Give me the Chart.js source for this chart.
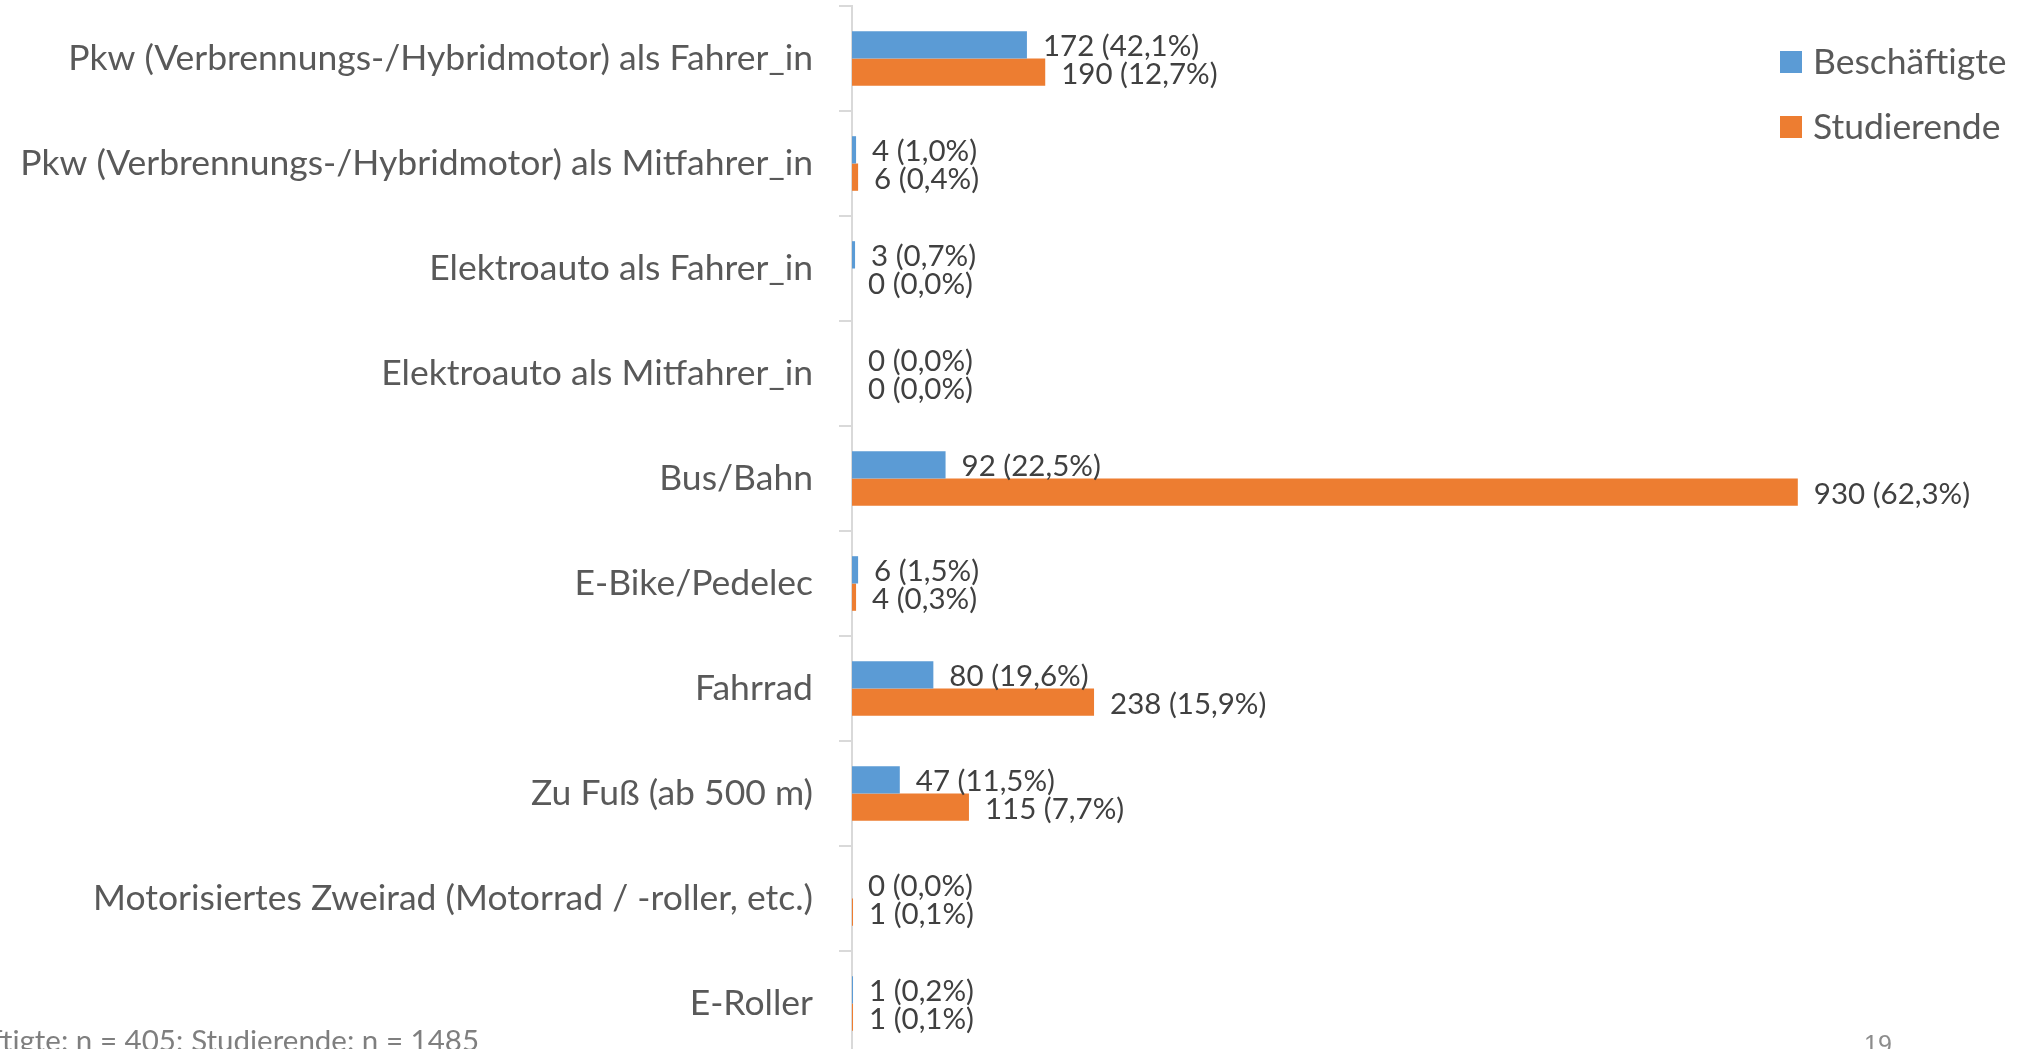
<!DOCTYPE html>
<html>
    <head>
        <meta charset="UTF-8" />
        <title>Verkehrsmittel Beschäftigte / Studierende</title>
        <style type="text/css">
            html, body {
                margin: 0;
                padding: 0;
                background: #ffffff;
                overflow: hidden;
            }
            #chartBox {
                position: relative;
                width: 2030px;
                height: 1049px;
                overflow: hidden;
            }
            #myChart {
                display: block;
            }
            #footnote {
                position: absolute;
                left: 479px;
                top: 1022px;
                transform: translateX(-100%);
                white-space: nowrap;
                font-family: Lato, sans-serif;
                font-size: 29.5px;
                color: #7f7f7f;
            }
            #pageNo {
                position: absolute;
                left: 1864px;
                top: 1030px;
                font-family: "Liberation Sans", sans-serif;
                font-size: 25px;
                color: #8c8c8c;
            }
        </style>
    </head>
    <body>
        <div id="chartBox">
            <canvas id="myChart" width="2030" height="1058"></canvas>
            <div id="footnote">Beschäftigte: n = 405; Studierende: n = 1485</div>
            <div id="pageNo">19</div>
        </div>

        <script src="https://cdn.jsdelivr.net/npm/chart.js"></script>
        <script>
            const categories = [
                'Pkw (Verbrennungs-/Hybridmotor) als Fahrer_in',
                'Pkw (Verbrennungs-/Hybridmotor) als Mitfahrer_in',
                'Elektroauto als Fahrer_in',
                'Elektroauto als Mitfahrer_in',
                'Bus/Bahn',
                'E-Bike/Pedelec',
                'Fahrrad',
                'Zu Fuß (ab 500 m)',
                'Motorisiertes Zweirad (Motorrad / -roller, etc.)',
                'E-Roller'
            ];
            const beschaeftigte = [172, 4, 3, 0, 92, 6, 80, 47, 0, 1];
            const beschaeftigtePct = [42.1, 1.0, 0.7, 0.0, 22.5, 1.5, 19.6, 11.5, 0.0, 0.2];
            const studierende = [190, 6, 0, 0, 930, 4, 238, 115, 1, 1];
            const studierendePct = [12.7, 0.4, 0.0, 0.0, 62.3, 0.3, 15.9, 7.7, 0.1, 0.1];
            const seriesNames = ['Beschäftigte', 'Studierende'];
            const pctLists = [beschaeftigtePct, studierendePct];

            const blue = '#5b9bd5';
            const orange = '#ed7d31';

            // Werte + Prozent rechts neben den Balken
            const barLabels = {
                id: 'barLabels',
                afterDatasetsDraw(chart) {
                    const ctx = chart.ctx;
                    ctx.save();
                    ctx.font = '29.5px Lato';
                    ctx.fillStyle = '#404040';
                    ctx.textAlign = 'left';
                    ctx.textBaseline = 'middle';
                    chart.data.datasets.forEach((ds, d) => {
                        const meta = chart.getDatasetMeta(d);
                        meta.data.forEach((bar, i) => {
                            const pct = pctLists[d][i].toFixed(1).replace('.', ',');
                            ctx.fillText(ds.data[i] + ' (' + pct + '%)', bar.x + 16, bar.y + 2);
                        });
                    });
                    ctx.restore();
                }
            };

            // Legende oben rechts (liegt über dem Diagrammbereich)
            const sideLegend = {
                id: 'sideLegend',
                afterDraw(chart) {
                    const ctx = chart.ctx;
                    ctx.save();
                    ctx.font = '35.5px Lato';
                    ctx.textBaseline = 'middle';
                    ctx.textAlign = 'left';
                    chart.data.datasets.forEach((ds, d) => {
                        const y = 62 + d * 65;
                        ctx.fillStyle = ds.backgroundColor;
                        ctx.fillRect(1780, y - 11, 22, 22);
                        ctx.fillStyle = '#595959';
                        ctx.fillText(seriesNames[d], 1813, y + 1);
                    });
                    ctx.restore();
                }
            };

            const data = {
                labels: categories,
                datasets: [{
                    label: seriesNames[0],
                    data: beschaeftigte,
                    backgroundColor: blue
                }, {
                    label: seriesNames[1],
                    data: studierende,
                    backgroundColor: orange
                }]
            };

            //config
            const config = {
                type: 'bar',
                data,
                options: {
                    indexAxis: 'y',
                    responsive: false,
                    animation: false,
                    devicePixelRatio: 1,
                    categoryPercentage: 0.52,
                    barPercentage: 1.0,
                    layout: {
                        padding: { top: 6, bottom: 2, left: 0, right: 161 }
                    },
                    plugins: {
                        legend: { display: false },
                        tooltip: { enabled: false }
                    },
                    scales: {
                        x: {
                            display: false,
                            min: 0,
                            max: 1000
                        },
                        y: {
                            afterFit(scale) {
                                scale.width = 852;
                                // Beschriftungen sitzen mittig im Band, kein Extra-Rand oben/unten
                                scale.paddingTop = 0;
                                scale.paddingBottom = 0;
                            },
                            grid: {
                                offset: true,
                                drawOnChartArea: false,
                                drawTicks: true,
                                tickLength: 13,
                                color: '#d9d9d9',
                                lineWidth: 2
                            },
                            border: {
                                display: true,
                                color: '#d9d9d9',
                                width: 2
                            },
                            ticks: {
                                autoSkip: false,
                                padding: 26,
                                color: '#595959',
                                font: { family: 'Lato', size: 35.5 }
                            }
                        }
                    }
                },
                plugins: [barLabels, sideLegend]
            };

            const myChart = new Chart(
                document.getElementById('myChart'),
                config
            );
        </script>
    </body>
</html>
